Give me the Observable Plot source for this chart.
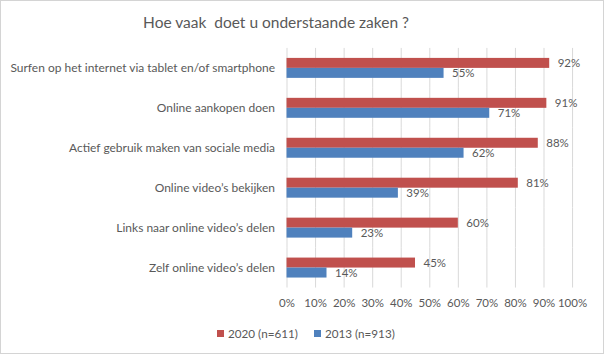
<!DOCTYPE html>
<html>
<head>
<meta charset="utf-8">
<script src="https://cdn.jsdelivr.net/npm/d3@7"></script>
<script src="https://cdn.jsdelivr.net/npm/@observablehq/plot@0.6"></script>
<style>
  html, body { margin: 0; padding: 0; background: #fff; }
  #frame { position: relative; width: 604px; height: 354px; box-sizing: border-box; border: 1px solid #d4d4d4; background: #fff; font-family: Lato, "Open Sans", sans-serif; color: #595959; overflow: hidden; }
  #title { position: absolute; top: 12px; left: 0; width: 550px; text-align: center; font-size: 15.5px; white-space: pre; }
  #chart { position: absolute; top: -1px; left: -1px; }
  #chart svg g[aria-label="fy-axis tick label"] text { font-size: 12px; }
  #legend { position: absolute; top: 325px; left: 216px; display: flex; gap: 16px; font-size: 11.7px; }
  #legend .item { display: flex; align-items: center; gap: 4px; }
  #legend .sw { width: 7px; height: 7px; display: inline-block; }
</style>
</head>
<body>
<div id="frame">
  <div id="title"></div>
  <div id="chart"></div>
  <div id="legend"></div>
</div>
<script>
const title = "Hoe vaak  doet u onderstaande zaken ?";
const categories = [
  "Surfen op het internet via tablet en/of smartphone",
  "Online aankopen doen",
  "Actief gebruik maken van sociale media",
  "Online video’s bekijken",
  "Links naar online video’s delen",
  "Zelf online video’s delen"
];
const values2020 = [92, 91, 88, 81, 60, 45];
const values2013 = [55, 71, 62, 39, 23, 14];
const series = ["2020 (n=611)", "2013 (n=913)"];
const colors = ["#C0504D", "#4F81BD"];
const xTicks = [0, 10, 20, 30, 40, 50, 60, 70, 80, 90, 100];

const data = categories.flatMap((c, i) => [
  {cat: c, s: series[0], v: values2020[i]},
  {cat: c, s: series[1], v: values2013[i]}
]);

document.getElementById("title").textContent = title;

const chart = Plot.plot({
  width: 604,
  height: 320,
  marginTop: 48,
  marginBottom: 32,
  marginLeft: 287,
  marginRight: 31,
  style: {fontFamily: "Lato, 'Open Sans', sans-serif", fontSize: "11.5px", color: "#595959", background: "transparent"},
  x: {domain: [0, 100], ticks: xTicks, tickFormat: d => d + "%", tickSize: 0, tickPadding: 11, label: null},
  y: {domain: series, axis: null, paddingInner: 0, paddingOuter: 1},
  fy: {domain: categories, axis: "left", tickSize: 0, tickPadding: 12, label: null, padding: 0},
  color: {domain: series, range: colors},
  marks: [
    Plot.gridX(xTicks, {stroke: "#d9d9d9", strokeOpacity: 1}),
    Plot.barX(data, {x: "v", y: "s", fy: "cat", fill: "s"}),
    Plot.text(data, {x: "v", y: "s", fy: "cat", text: d => d.v + "%", textAnchor: "start", dx: 8, fill: "#595959"})
  ]
});
chart.querySelectorAll('g[aria-label="fy-axis tick label"]').forEach(g => g.setAttribute("font-size", "12px"));
document.getElementById("chart").appendChild(chart);

const legend = document.getElementById("legend");
series.forEach((s, i) => {
  const item = document.createElement("div");
  item.className = "item";
  const sw = document.createElement("span");
  sw.className = "sw";
  sw.style.background = colors[i];
  const t = document.createElement("span");
  t.textContent = s;
  item.appendChild(sw);
  item.appendChild(t);
  legend.appendChild(item);
});
</script>
</body>
</html>
